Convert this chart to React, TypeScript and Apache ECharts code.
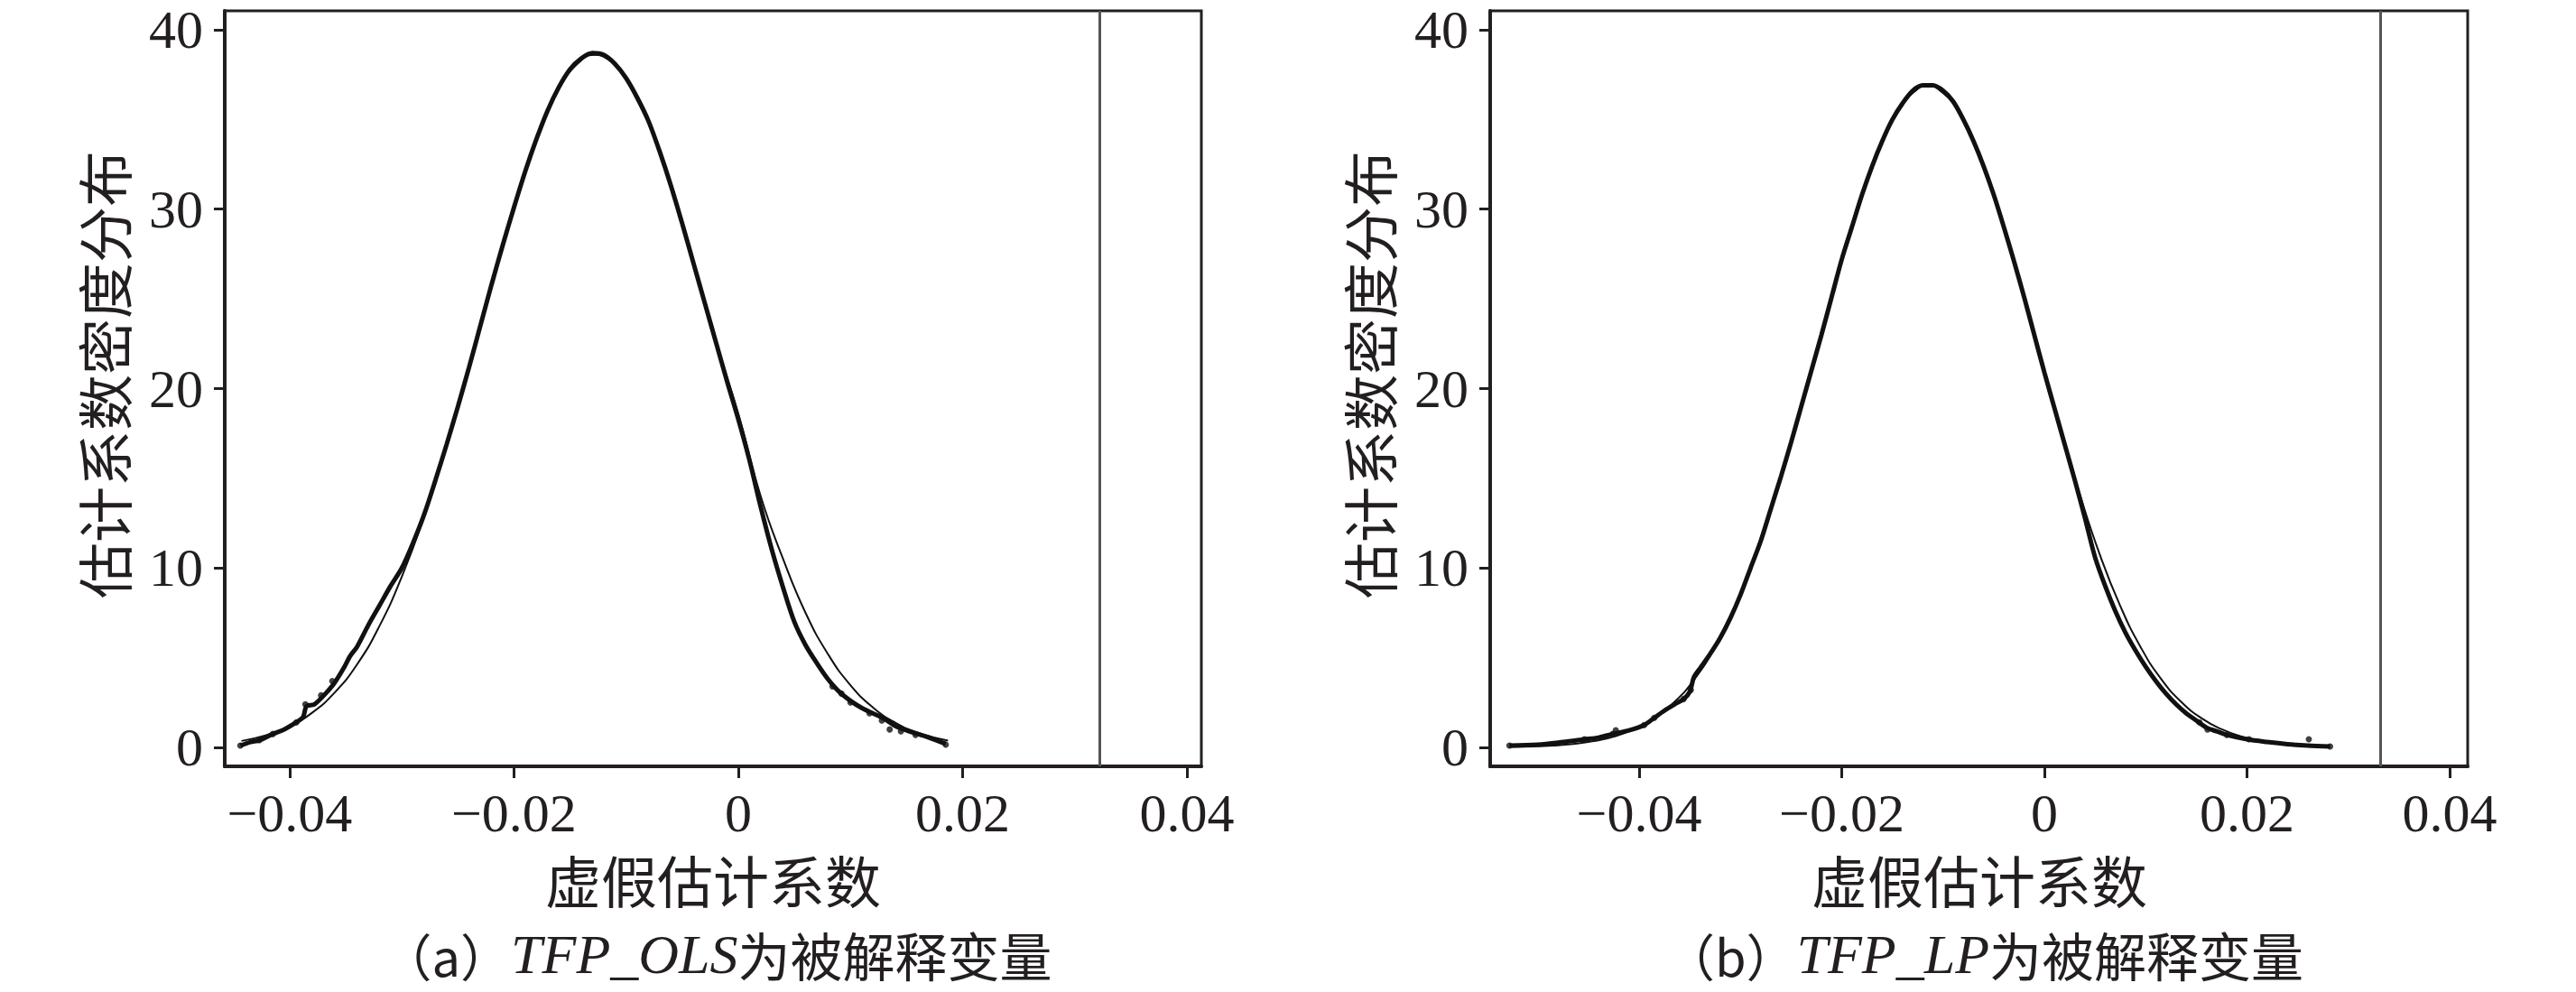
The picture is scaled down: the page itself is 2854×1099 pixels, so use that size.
import React, { useEffect, useRef } from "react";
import * as echarts from "echarts";

// ---------- data ----------
const X_TICKS = [-0.04, -0.02, 0, 0.02, 0.04];
const Y_TICKS = [0, 10, 20, 30, 40];

const X_TITLE = "虚假估计系数";
const Y_TITLE = "估计系数密度分布";
const CAPTION_A = ["（a）", "TFP_OLS", "为被解释变量"];
const CAPTION_B = ["（b）", "TFP_LP", "为被解释变量"];

const VLINE_A = 0.0322;
const VLINE_B = 0.0332;

// panel (a): fitted normal density (thin line)
const OLS_NORMAL: [number, number][] = [
  [-0.0443, 0.36], [-0.042, 0.7], [-0.04, 1.18], [-0.038, 1.93], [-0.036, 3.05],
  [-0.034, 4.62], [-0.032, 6.76], [-0.03, 9.52], [-0.028, 12.9], [-0.026, 16.9],
  [-0.024, 21.2], [-0.022, 25.8], [-0.02, 30.1], [-0.018, 33.8], [-0.016, 36.7],
  [-0.014, 38.3], [-0.0127, 38.6], [-0.012, 38.5], [-0.01, 37.3], [-0.008, 34.8],
  [-0.006, 31.3], [-0.004, 27.1], [-0.002, 22.6], [0, 18.6], [0.002, 14.0],
  [0.004, 10.5], [0.006, 7.5], [0.008, 5.2], [0.01, 3.47], [0.012, 2.23],
  [0.014, 1.38], [0.016, 0.82], [0.0187, 0.38],
];

// panel (a): kernel density of placebo estimates (thick line)
const OLS_KDENSITY: [number, number][] = [
  [-0.0444, 0.1], [-0.0435, 0.3], [-0.0427, 0.4], [-0.0415, 0.75], [-0.0405, 1.0],
  [-0.0394, 1.4], [-0.0388, 1.7], [-0.0385, 2.3], [-0.0378, 2.4], [-0.0368, 3.0],
  [-0.036, 3.6], [-0.0352, 4.4], [-0.0346, 5.1], [-0.034, 5.6], [-0.033, 6.8],
  [-0.032, 7.9], [-0.031, 9.0], [-0.03, 10.0], [-0.029, 11.4], [-0.028, 13.0],
  [-0.027, 14.9], [-0.026, 16.9], [-0.025, 19.0], [-0.024, 21.2], [-0.023, 23.5],
  [-0.022, 25.8], [-0.021, 28.0], [-0.02, 30.1], [-0.019, 32.1], [-0.018, 33.9],
  [-0.017, 35.5], [-0.016, 36.8], [-0.015, 37.8], [-0.014, 38.4], [-0.013, 38.7],
  [-0.012, 38.6], [-0.011, 38.1], [-0.01, 37.3], [-0.009, 36.2], [-0.008, 34.9],
  [-0.007, 33.2], [-0.006, 31.3], [-0.005, 29.2], [-0.004, 27.0], [-0.003, 24.8],
  [-0.002, 22.6], [-0.001, 20.4], [0, 18.3], [0.001, 16.0], [0.002, 13.4],
  [0.003, 11.0], [0.004, 8.9], [0.005, 7.0], [0.006, 5.7], [0.007, 4.7],
  [0.008, 3.8], [0.009, 3.1], [0.01, 2.6], [0.011, 2.2], [0.012, 1.9],
  [0.013, 1.6], [0.014, 1.2], [0.015, 0.95], [0.016, 0.75], [0.017, 0.55],
  [0.0185, 0.2],
];

const OLS_DOTS: [number, number][] = [
  [-0.0444, 0.1], [-0.0427, 0.4], [-0.0415, 0.75], [-0.0394, 1.4], [-0.0386, 2.4],
  [-0.0372, 2.9], [-0.0362, 3.7],
  [0.0084, 3.4], [0.0092, 3.0], [0.01, 2.5], [0.0117, 1.9], [0.0128, 1.5],
  [0.0135, 1.0], [0.0145, 0.9], [0.0158, 0.7], [0.0185, 0.15],
];

// panel (b): fitted normal density (thin line)
const LP_NORMAL: [number, number][] = [
  [-0.0528, 0.03], [-0.0505, 0.055], [-0.0485, 0.105], [-0.0465, 0.195], [-0.0445, 0.35],
  [-0.0425, 0.6], [-0.0405, 1.01], [-0.0385, 1.63], [-0.0365, 2.54], [-0.0345, 3.83],
  [-0.0325, 5.59], [-0.0305, 7.87], [-0.0285, 10.7], [-0.0265, 14.1], [-0.0245, 17.9],
  [-0.0225, 22.0], [-0.0205, 26.1], [-0.0185, 29.9], [-0.0165, 33.2], [-0.0145, 35.5],
  [-0.0125, 36.7], [-0.0115, 36.9], [-0.0105, 36.7], [-0.0085, 35.5], [-0.0065, 33.2],
  [-0.0045, 29.9], [-0.0025, 26.1], [-0.0005, 22.0], [0.0015, 17.9], [0.0035, 14.1],
  [0.0055, 10.7], [0.0075, 7.87], [0.0095, 5.59], [0.0115, 3.83], [0.0135, 2.54],
  [0.0155, 1.63], [0.0175, 1.01], [0.0195, 0.6], [0.0215, 0.35], [0.0235, 0.195],
  [0.0255, 0.105], [0.0282, 0.05],
];

// panel (b): kernel density of placebo estimates (thick line)
const LP_KDENSITY: [number, number][] = [
  [-0.0528, 0.1], [-0.05, 0.15], [-0.0475, 0.3], [-0.0454, 0.45], [-0.044, 0.55],
  [-0.0426, 0.75], [-0.041, 0.95], [-0.0395, 1.25], [-0.0385, 1.65], [-0.0375, 2.05],
  [-0.0365, 2.4], [-0.0356, 2.7], [-0.035, 3.1], [-0.0346, 3.9], [-0.034, 4.4],
  [-0.033, 5.2], [-0.032, 6.1], [-0.031, 7.2], [-0.03, 8.5], [-0.029, 10.0],
  [-0.028, 11.5], [-0.027, 13.3], [-0.026, 15.1], [-0.025, 17.0], [-0.024, 19.0],
  [-0.023, 21.0], [-0.022, 23.0], [-0.021, 25.1], [-0.02, 27.2], [-0.019, 29.0],
  [-0.018, 30.8], [-0.017, 32.4], [-0.016, 33.8], [-0.015, 35.0], [-0.014, 35.9],
  [-0.013, 36.6], [-0.012, 36.9], [-0.011, 36.9], [-0.01, 36.6], [-0.009, 36.0],
  [-0.008, 35.0], [-0.007, 33.8], [-0.006, 32.4], [-0.005, 30.8], [-0.004, 29.0],
  [-0.003, 27.1], [-0.002, 25.1], [-0.001, 23.0], [0, 20.9], [0.001, 18.9],
  [0.002, 16.9], [0.003, 14.9], [0.004, 12.8], [0.005, 10.6], [0.006, 9.0],
  [0.007, 7.6], [0.008, 6.4], [0.009, 5.4], [0.01, 4.5], [0.011, 3.7],
  [0.012, 3.0], [0.013, 2.4], [0.014, 1.9], [0.015, 1.5], [0.016, 1.1],
  [0.017, 0.9], [0.018, 0.7], [0.02, 0.45], [0.022, 0.3], [0.024, 0.18],
  [0.026, 0.1], [0.0282, 0.05],
];

const LP_DOTS: [number, number][] = [
  [-0.0528, 0.1], [-0.0454, 0.45], [-0.0426, 0.75], [-0.0423, 0.95], [-0.0395, 1.25],
  [-0.0385, 1.65], [-0.0356, 2.7], [-0.0349, 3.2],
  [0.0153, 1.4], [0.0161, 1.0], [0.018, 0.7], [0.0202, 0.45], [0.0261, 0.45], [0.0282, 0.05],
];

// ---------- styling ----------
const INK = "#231f20";
const SERIF = "'Liberation Serif', 'Times New Roman', serif";
const CJK = "'Noto Sans CJK SC', sans-serif";

const fmtX = (v: number) => {
  if (Math.abs(v) < 1e-9) return "0";
  return (v < 0 ? "\u2212" : "") + Math.abs(v).toFixed(2);
};

function makeXAxis(gridIndex: number, min: number, max: number) {
  return {
    type: "value",
    gridIndex,
    min,
    max,
    axisLine: { show: true, onZero: false, lineStyle: { color: INK, width: 4 } },
    axisTick: { show: true, length: 13, customValues: X_TICKS, lineStyle: { color: INK, width: 3 } },
    axisLabel: {
      show: true,
      customValues: X_TICKS,
      formatter: fmtX,
      margin: 22,
      color: INK,
      fontFamily: SERIF,
      fontSize: 60,
    },
    splitLine: { show: false },
  };
}

function makeYAxis(gridIndex: number) {
  return {
    type: "value",
    gridIndex,
    min: -1.055,
    max: 41.055,
    axisLine: { show: true, onZero: false, lineStyle: { color: INK, width: 4 } },
    axisTick: { show: true, length: 12, customValues: Y_TICKS, lineStyle: { color: INK, width: 3 } },
    axisLabel: {
      show: true,
      customValues: Y_TICKS,
      formatter: (v: number) => String(Math.round(v)),
      margin: 24,
      color: INK,
      fontFamily: SERIF,
      fontSize: 60,
    },
    splitLine: { show: false },
  };
}

function panelSeries(idx: number, normal: [number, number][], kd: [number, number][], dots: [number, number][], vline: number) {
  return [
    {
      type: "line",
      xAxisIndex: idx,
      yAxisIndex: idx,
      data: normal,
      smooth: true,
      showSymbol: false,
      lineStyle: { color: "#111", width: 2 },
      markLine: {
        silent: true,
        precision: 5,
        symbol: ["none", "none"],
        label: { show: false },
        lineStyle: { color: "#555", width: 3, type: "solid" },
        data: [{ xAxis: vline }],
      },
      z: 3,
    },
    {
      type: "line",
      xAxisIndex: idx,
      yAxisIndex: idx,
      data: kd,
      smooth: 0.3,
      showSymbol: false,
      lineStyle: { color: "#111", width: 5 },
      z: 4,
    },
    {
      type: "scatter",
      xAxisIndex: idx,
      yAxisIndex: idx,
      data: dots,
      symbolSize: 7,
      itemStyle: { color: "#111" },
      z: 5,
    },
  ];
}

function caption(parts: string[], x: number, y: number) {
  return {
    type: "text",
    x,
    y,
    style: {
      text: `{p|${parts[0]}}{i|${parts[1]}}{c|${parts[2]}}`,
      align: "center",
      verticalAlign: "middle",
      textAlign: "center",
      textVerticalAlign: "middle",
      fill: INK,
      rich: {
        p: { fontFamily: CJK, fontSize: 56, fill: INK },
        i: { fontFamily: SERIF, fontStyle: "italic", fontSize: 62, fill: INK },
        c: { fontFamily: CJK, fontSize: 58, fill: INK },
      },
    },
  };
}

function textEl(text: string, x: number, y: number, size: number, rotation = 0) {
  return {
    type: "text",
    x,
    y,
    rotation,
    style: {
      text,
      align: "center",
      verticalAlign: "middle",
      textAlign: "center",
      textVerticalAlign: "middle",
      fill: INK,
      fontFamily: CJK,
      fontSize: size,
    },
  };
}

export default function App() {
  const ref = useRef<HTMLDivElement>(null);

  useEffect(() => {
    if (!ref.current) return;
    const chart = echarts.init(ref.current, undefined, { renderer: "svg" });
    const gridBase = { top: 12, height: 837, width: 1082, show: true, borderColor: INK, borderWidth: 3, backgroundColor: "#fff" };
    chart.setOption({
      animation: false,
      backgroundColor: "#fff",
      grid: [
        { ...gridBase, left: 249 },
        { ...gridBase, left: 1651, width: 1083 },
      ],
      xAxis: [makeXAxis(0, -0.04579, 0.04129), makeXAxis(1, -0.0547, 0.04178)],
      yAxis: [makeYAxis(0), makeYAxis(1)],
      series: [
        ...panelSeries(0, OLS_NORMAL, OLS_KDENSITY, OLS_DOTS, VLINE_A),
        ...panelSeries(1, LP_NORMAL, LP_KDENSITY, LP_DOTS, VLINE_B),
      ],
      graphic: [
        textEl(X_TITLE, 790, 974, 62),
        textEl(X_TITLE, 2193, 974, 62),
        textEl(Y_TITLE, 114, 415, 62, Math.PI / 2),
        textEl(Y_TITLE, 1516, 415, 62, Math.PI / 2),
        caption(CAPTION_A, 794, 1057),
        caption(CAPTION_B, 2198, 1057),
      ],
    });
    return () => chart.dispose();
  }, []);

  return (
    <div
      ref={ref}
      style={{ position: "fixed", left: 0, top: 0, width: 2854, height: 1099, background: "#fff" }}
    />
  );
}
